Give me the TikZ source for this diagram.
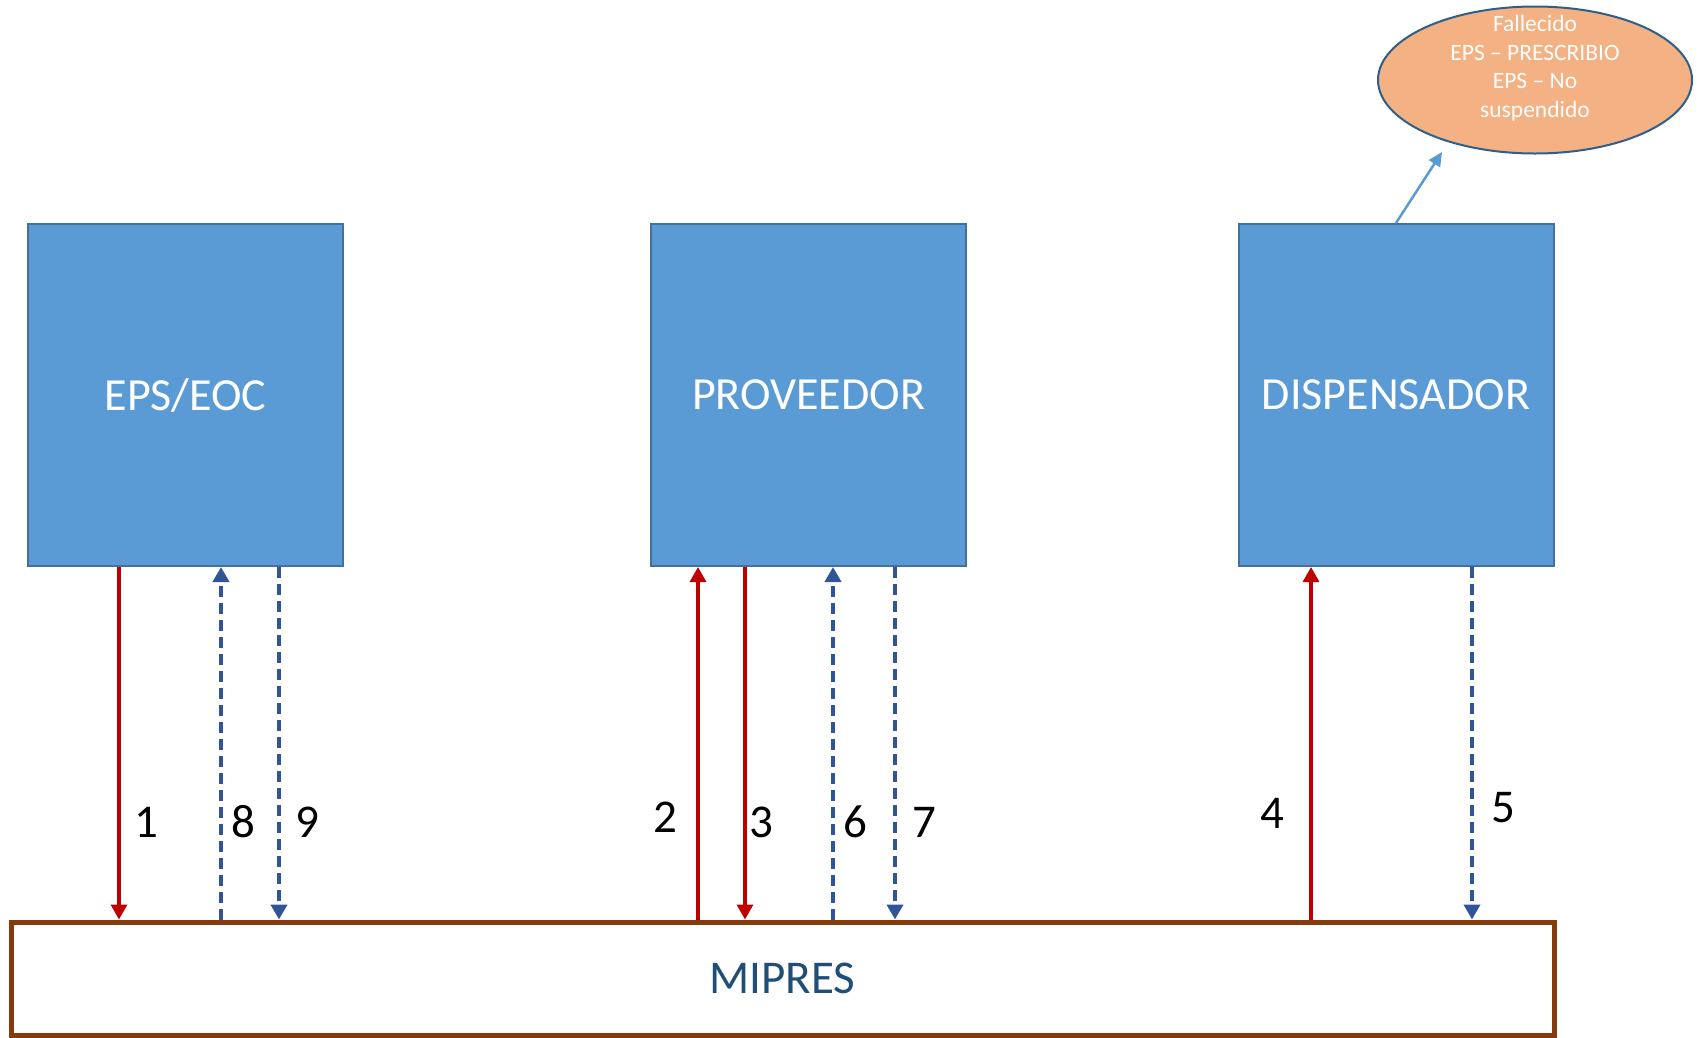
\documentclass[tikz,border=0pt]{standalone}
\usepackage{fontspec}
\setmainfont{Carlito}
\usetikzlibrary{arrows.meta,shapes.geometric}
\definecolor{boxfill}{HTML}{5B9BD5}
\definecolor{boxline}{HTML}{41719C}
\definecolor{redarr}{HTML}{C00000}
\definecolor{bluearr}{HTML}{2F5597}
\definecolor{ellfill}{HTML}{F4B183}
\definecolor{ellline}{HTML}{2E5F8A}
\definecolor{mipline}{HTML}{843C0C}
\definecolor{miptext}{HTML}{1F4E79}
\tikzset{
  actor/.style={draw=boxline, line width=2pt, fill=boxfill, minimum width=315pt, minimum height=342pt, inner sep=0pt, text=white, font=\fontsize{46}{56}\selectfont},
  mipbox/.style={draw=mipline, line width=5pt, fill=white, minimum width=1543pt, minimum height=113pt, inner sep=0pt, text=miptext, font=\fontsize{47}{56}\selectfont},
  redline/.style={draw=redarr, line width=3.2pt, -{Triangle[width=16pt,length=15pt]}},
  blueline/.style={draw=bluearr, line width=4pt, dash pattern=on 11pt off 6pt, -{Triangle[width=16pt,length=15pt]}},
  num/.style={font=\fontsize{47}{56}\selectfont, text=black, inner sep=0pt},
  note/.style={ellipse, draw=ellline, line width=2pt, fill=ellfill, minimum width=314pt, minimum height=147pt, inner sep=0pt},
  notetext/.style={text=white, align=center, inner sep=0pt, font=\fontsize{23.5}{28.5}\selectfont},
}
\begin{document}
\begin{tikzpicture}[x=1pt,y=-1pt]
\useasboundingbox (0,0) rectangle (1702,1037);
\node[actor] (eps) at (185.5,395) {EPS/EOC};
\node[actor] (prov) at (808.5,395) {PROVEEDOR};
\node[actor] (disp) at (1396,395) {DISPENSADOR};
\node[mipbox] (mip) at (782.5,978.5) {MIPRES};
\node[note] (ell) at (1535,80) {};
\node[notetext] (elltext) at ([yshift=12pt]ell.center) {Fallecido\\EPS – PRESCRIBIO\\EPS – No\\suspendido};
\coordinate (elltip) at (1442,152);
\draw[draw=boxfill, line width=2.5pt, -{Triangle[width=13pt,length=14pt]}] (disp.north) -- (elltip);
% EPS arrows
\draw[redline] (eps.south -| 119,0) -- (mip.north -| 119,0);
\draw[blueline] (mip.north -| 221,0) -- (eps.south -| 221,0);
\draw[blueline] (eps.south -| 279,0) -- (mip.north -| 279,0);
% PROVEEDOR arrows
\draw[redline] (mip.north -| 698,0) -- (prov.south -| 698,0);
\draw[redline] (prov.south -| 745,0) -- (mip.north -| 745,0);
\draw[blueline] (mip.north -| 833,0) -- (prov.south -| 833,0);
\draw[blueline] (prov.south -| 895,0) -- (mip.north -| 895,0);
% DISPENSADOR arrows
\draw[redline] (mip.north -| 1311,0) -- (disp.south -| 1311,0);
\draw[blueline] (disp.south -| 1472,0) -- (mip.north -| 1472,0);
% labels
\node[num] (n1) at (146,822) {1};
\node[num] (n8) at (243,822) {8};
\node[num] (n9) at (307,822) {9};
\node[num] (n2) at (665,817) {2};
\node[num] (n3) at (761,822) {3};
\node[num] (n6) at (855,822) {6};
\node[num] (n7) at (924,822) {7};
\node[num] (n4) at (1272,813) {4};
\node[num] (n5) at (1503,808) {5};
\end{tikzpicture}
\end{document}
